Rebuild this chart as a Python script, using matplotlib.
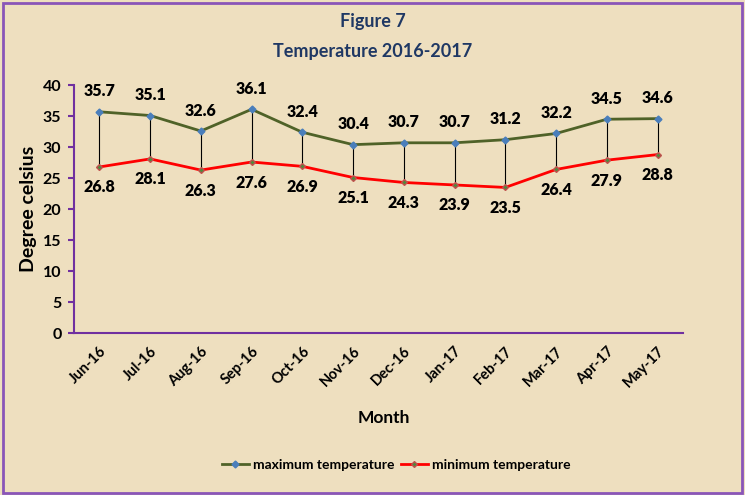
import numpy as np
import matplotlib.pyplot as plt
from matplotlib.patches import Rectangle

plt.rcParams['font.family'] = ['Lato', 'DejaVu Sans']

months = ['Jun-16', 'Jul-16', 'Aug-16', 'Sep-16', 'Oct-16', 'Nov-16',
          'Dec-16', 'Jan-17', 'Feb-17', 'Mar-17', 'Apr-17', 'May-17']
max_temp = [35.7, 35.1, 32.6, 36.1, 32.4, 30.4, 30.7, 30.7, 31.2, 32.2, 34.5, 34.6]
min_temp = [26.8, 28.1, 26.3, 27.6, 26.9, 25.1, 24.3, 23.9, 23.5, 26.4, 27.9, 28.8]

bg = '#eedfbf'
purple = '#7030a0'
navy = '#1f3864'

fig = plt.figure(figsize=(7.45, 4.95), dpi=100, facecolor=bg)
ax = fig.add_axes([0.0993, 0.327, 0.8174, 0.501])
ax.set_facecolor(bg)

x = np.arange(len(months))
ax.vlines(x, min_temp, max_temp, color='black', lw=0.8, zorder=1)
ax.plot(x, max_temp, color='#4f6228', lw=2, marker='D', ms=3.5,
        mfc='#4a7ebb', mec='#4a7ebb', label='maximum temperature', zorder=3)
ax.plot(x, min_temp, color='#ff0000', lw=2, marker='D', ms=3,
        mfc='#4f8a3c', mec='#c0504d', label='minimum temperature', zorder=3)

for xi, v in zip(x, max_temp):
    ax.annotate(f'{v}', (xi, v), xytext=(0, 9), textcoords='offset points',
                ha='center', va='bottom', fontsize=11.5, fontweight='heavy')
for xi, v in zip(x, min_temp):
    ax.annotate(f'{v}', (xi, v), xytext=(0, -9), textcoords='offset points',
                ha='center', va='top', fontsize=11.5, fontweight='heavy')

ax.set_xlim(-0.5, 11.5)
ax.set_ylim(0, 40)
ax.set_yticks(range(0, 41, 5))
ax.set_xticks(x)
ax.set_xticklabels(months, rotation=45, ha='right', rotation_mode='anchor',
                   fontsize=10.5, fontweight='bold')
for lbl in ax.get_yticklabels():
    lbl.set_fontweight('bold')
    lbl.set_fontsize(11.5)

for s in ['top', 'right']:
    ax.spines[s].set_visible(False)
for s in ['left', 'bottom']:
    ax.spines[s].set_color(purple)
    ax.spines[s].set_linewidth(1.5)
ax.tick_params(axis='y', colors=purple, length=4, width=1.5, labelcolor='black', pad=5)
ax.tick_params(axis='x', length=0, pad=8, labelcolor='black')

ax.set_ylabel('Degree celsius', fontsize=14, fontweight='bold', labelpad=4)
ax.set_xlabel('Month', fontsize=12.5, fontweight='bold')
ax.xaxis.set_label_coords(0.508, -0.31)

fig.text(0.5, 0.957, 'Figure 7', ha='center', va='center', fontsize=13,
         fontweight='bold', color=navy)
fig.text(0.5, 0.895, 'Temperature 2016-2017', ha='center', va='center',
         fontsize=13, fontweight='bold', color=navy)

fig.legend(loc='center', bbox_to_anchor=(0.532, 0.06), ncol=2, frameon=False,
           handlelength=2.0, handletextpad=0.3, columnspacing=0.4,
           prop={'weight': 'bold', 'size': 10})

fig.patches.append(Rectangle((0.004, 0.004), 0.992, 0.99, transform=fig.transFigure,
                             fill=False, edgecolor='#8a55b8', lw=2))

fig.savefig('out.png', dpi=100, facecolor=bg)
